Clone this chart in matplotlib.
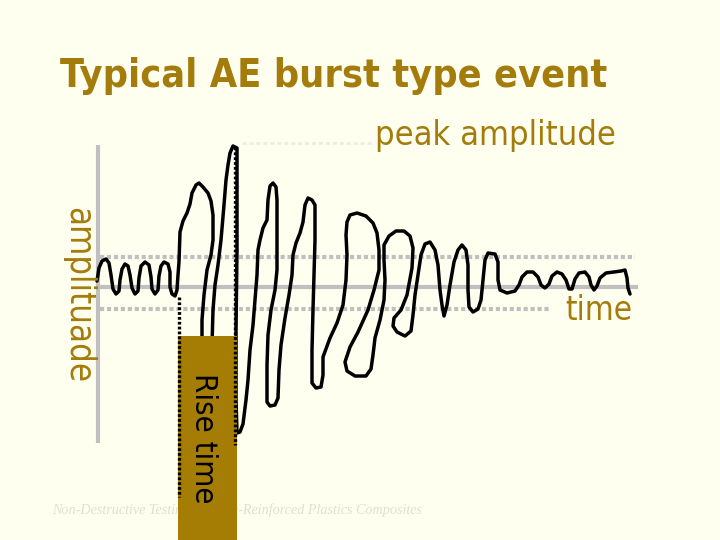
import matplotlib
matplotlib.use("Agg")
import matplotlib.pyplot as plt
from matplotlib.patches import Rectangle

# ---------------- data (pixel-like diagram units) ----------------
title_text = "Typical AE burst type event"
peak_label = "peak amplitude"
time_label = "time"
amp_label = "amplituade"
rise_label = "Rise time"
footer_text = "Non-Destructive Testing of Fibre-Reinforced Plastics Composites"

wave_x = [97, 99, 102, 106, 109, 111, 113, 116, 119, 120, 122, 125, 128, 130, 132, 135, 138, 139, 141, 145,
          149, 151, 152, 155, 158, 159, 161, 164, 168, 170, 170, 172, 175, 177, 178, 179, 180, 183, 187, 190,
          192, 196, 199, 203, 208, 211, 213, 213, 211, 207, 204, 202, 202, 205, 209, 212, 212, 213, 215, 218,
          221, 224, 226, 228, 230, 233, 237, 237, 237, 236, 236, 237, 240, 243, 246, 248, 250, 253, 255, 257,
          258, 260, 263, 267, 268, 270, 273, 276, 277, 277, 277, 275, 271, 268, 267, 267, 270, 275, 278, 279,
          281, 285, 289, 292, 293, 296, 300, 303, 305, 308, 312, 315, 315, 314, 313, 312, 312, 316, 321, 323,
          323, 330, 337, 343, 346, 347, 346, 347, 350, 357, 366, 373, 377, 379, 379, 374, 368, 358, 350, 345,
          347, 355, 366, 371, 373, 375, 380, 384, 385, 384, 384, 389, 396, 404, 410, 413, 412, 407, 401, 394,
          393, 397, 405, 411, 413, 415, 418, 421, 425, 430, 435, 438, 440, 442, 444, 447, 450, 454, 458, 462,
          466, 468, 468, 469, 473, 478, 481, 483, 485, 488, 495, 498, 498, 500, 507, 515, 519, 522, 527, 533,
          538, 541, 545, 549, 552, 557, 562, 566, 569, 572, 575, 579, 585, 589, 591, 594, 597, 600, 606, 614,
          621, 625, 627, 628, 630]
wave_y = [281, 268, 261, 259, 263, 275, 289, 294, 291, 280, 269, 264, 266, 275, 288, 294, 291, 278, 266, 262,
          265, 277, 289, 294, 290, 276, 266, 262, 264, 272, 287, 294, 296, 290, 275, 262, 232, 221, 213, 204,
          193, 185, 183, 187, 193, 201, 215, 240, 255, 270, 295, 320, 345, 390, 400, 385, 345, 310, 285, 265,
          240, 205, 180, 165, 153, 146, 148, 180, 250, 330, 400, 433, 432, 424, 400, 380, 350, 325, 300, 275,
          250, 240, 228, 220, 200, 186, 183, 187, 200, 240, 270, 290, 310, 335, 365, 402, 406, 405, 398, 370,
          345, 318, 295, 275, 255, 243, 233, 222, 205, 198, 200, 205, 240, 275, 310, 350, 383, 388, 387, 375,
          357, 338, 323, 305, 280, 255, 235, 222, 215, 213, 216, 223, 233, 250, 270, 290, 310, 332, 347, 362,
          371, 376, 376, 369, 355, 338, 320, 300, 280, 260, 245, 236, 231, 231, 236, 248, 268, 295, 310, 318,
          326, 332, 336, 331, 315, 295, 275, 255, 244, 242, 250, 265, 290, 305, 316, 305, 285, 262, 250, 245,
          250, 265, 290, 307, 312, 309, 300, 280, 260, 253, 254, 262, 280, 290, 293, 291, 285, 277, 272, 272,
          277, 285, 288, 284, 276, 272, 274, 280, 289, 289, 279, 273, 272, 277, 285, 290, 286, 278, 273, 272,
          271, 270, 278, 288, 294]

# ---------------- style ----------------
BG = "#FFFFF0"
GOLD = "#A47C0C"
BAR = "#A67D04"
GRAY = "#C0C0C0"
matplotlib.rcParams["lines.scale_dashes"] = False

fig = plt.figure(figsize=(7.2, 5.4), dpi=100, facecolor=BG)
ax = fig.add_axes([0, 0, 1, 1])
ax.set_xlim(0, 720)
ax.set_ylim(540, 0)
ax.set_facecolor(BG)
ax.axis("off")

# axes of the sketch
ax.plot([98, 98], [145, 443], color=GRAY, lw=3, solid_capstyle="butt", zorder=1)
ax.plot([98, 638], [287, 287], color=GRAY, lw=3, solid_capstyle="butt", zorder=1)
ax.plot([100, 635], [257, 257], color=GRAY, lw=3, ls=(0, (3, 2)), zorder=1)
ax.plot([100, 550], [309, 309], color=GRAY, lw=3, ls=(0, (3, 2)), zorder=1)
ax.plot([242, 372], [143, 143], color="#EEEEDD", lw=2, ls=(0, (3, 2)), zorder=1)

# footer (under the bar)
ft = ax.text(52, 510, footer_text, fontsize=10, family="Liberation Serif", style="italic",
             color="#E2E0CB", ha="left", va="center", zorder=2)

# waveform
ax.plot(wave_x, wave_y, color="black", lw=2.5, solid_joinstyle="round", solid_capstyle="round", zorder=3)

# rise-time bar and markers
ax.add_patch(Rectangle((178, 336), 59, 210, facecolor=BAR, edgecolor="none", zorder=4))
ax.plot([178.5, 178.5], [297, 497], color="black", lw=2.4, ls=(0, (2, 1.5)), zorder=5)
ax.plot([235, 235], [147, 445], color="black", lw=2.4, ls=(0, (2, 1.5)), zorder=5)

# texts
tt = ax.text(60, 87, title_text, fontsize=28, fontweight="bold", family="DejaVu Sans",
             fontstretch="condensed", color=GOLD, ha="left", va="baseline", zorder=6)
pk = ax.text(375, 145, peak_label, fontsize=22, family="DejaVu Sans", fontstretch="condensed",
             color=GOLD, ha="left", va="baseline", zorder=6)
tm = ax.text(565, 320, time_label, fontsize=22, family="DejaVu Sans", fontstretch="condensed",
             color=GOLD, ha="left", va="baseline", zorder=6)
am = ax.text(68, 207, amp_label, fontsize=22, family="DejaVu Sans", fontstretch="condensed",
             color=GOLD, rotation=-90, rotation_mode="anchor", ha="left", va="baseline", zorder=6)
rs = ax.text(195, 373, rise_label, fontsize=20, family="DejaVu Sans", fontstretch="condensed",
             color="black", rotation=-90, rotation_mode="anchor", ha="left", va="baseline", zorder=6)

# fit text lengths to the reference
fig.canvas.draw()
r = fig.canvas.get_renderer()
for t, target, horiz in [(tt, 547, True), (pk, 242, True), (tm, 67, True),
                         (am, 176, False), (rs, 130, False), (ft, 370, True)]:
    bb = t.get_window_extent(r)
    size = bb.width if horiz else bb.height
    t.set_fontsize(t.get_fontsize() * target / size)

fig.savefig("out.png", dpi=100, facecolor=BG)
